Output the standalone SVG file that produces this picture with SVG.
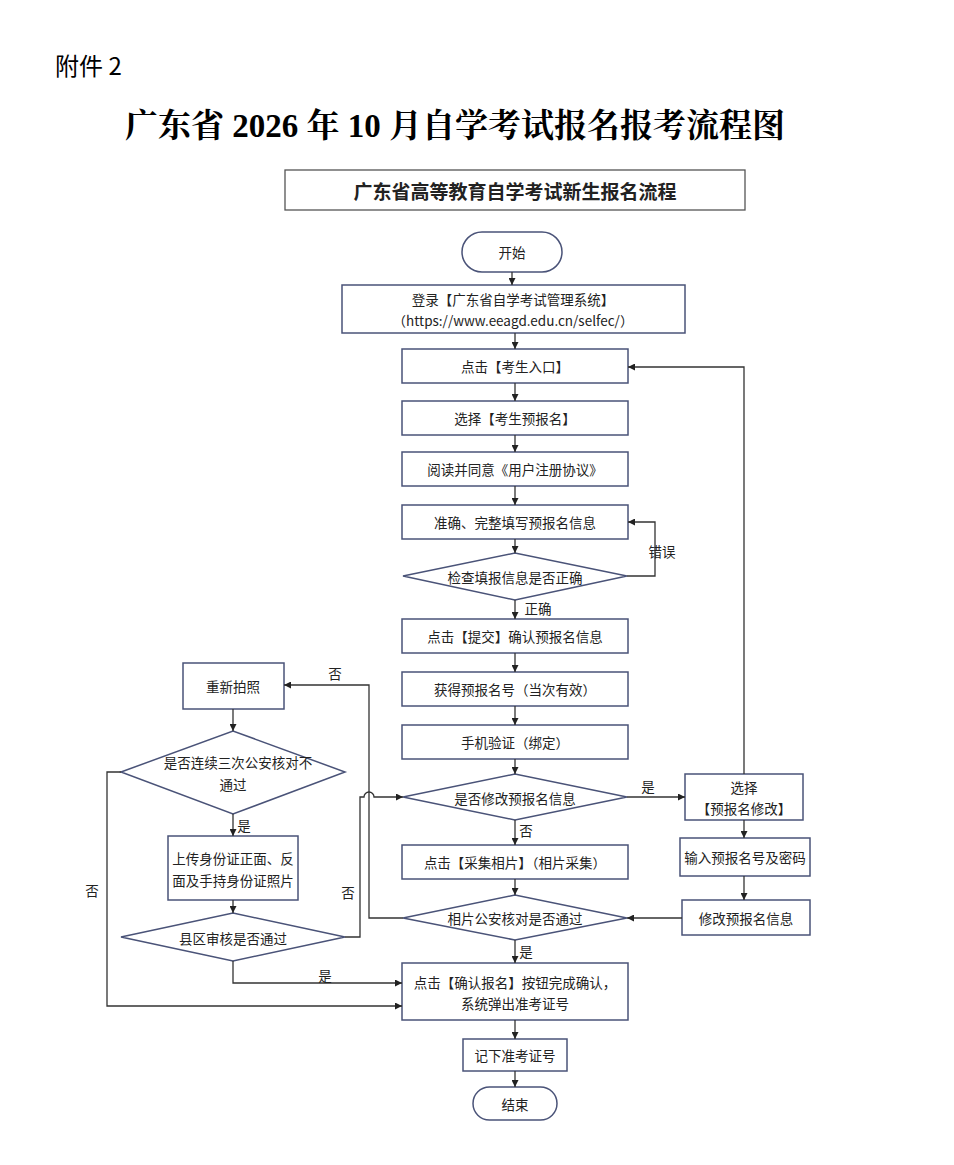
<svg xmlns="http://www.w3.org/2000/svg" width="954" height="1165" viewBox="0 0 954 1165">
<defs>
<marker id="ah" viewBox="0 0 10 10" refX="10" refY="5" markerWidth="7" markerHeight="7" orient="auto" markerUnits="userSpaceOnUse"><path d="M0,0 L10,5 L0,10 z" fill="#222"/></marker>
<style>
.b{fill:#fff;stroke:#4a5378;stroke-width:1.5}
.t{font-family:"Noto Sans CJK SC","Noto Sans",sans-serif;font-size:13.5px;fill:#222;text-anchor:middle;dominant-baseline:central}
.c{fill:none;stroke:#333;stroke-width:1.3;marker-end:url(#ah)}
.n{fill:none;stroke:#333;stroke-width:1.3}
</style>
</defs>
<rect width="954" height="1165" fill="#fff"/>
<text x="55" y="75" style="font-family:'Noto Sans CJK SC',sans-serif;font-size:24px;fill:#000">附件 2</text>
<text x="455" y="137" style="font-family:'Liberation Serif','Noto Serif CJK SC','Noto Sans CJK SC',serif;font-size:33px;font-weight:bold;fill:#000;text-anchor:middle">广东省 2026 年 10 月自学考试报名报考流程图</text>
<g id="header"><rect x="285" y="170" width="460" height="40" fill="#fff" stroke="#555" stroke-width="1.3"/><text class="t" x="515" y="190" style="font-size:19px;font-weight:bold">广东省高等教育自学考试新生报名流程</text></g>
<g id="start"><rect class="b" x="462" y="232" width="100" height="40" rx="20"/><text class="t" x="512" y="252">开始</text></g>
<g id="login"><rect class="b" x="342" y="285" width="343" height="48"/><text class="t" x="513" y="299">登录【广东省自学考试管理系统】</text><text class="t" x="513" y="320">（https://www.eeagd.edu.cn/selfec/）</text></g>
<g id="n1"><rect class="b" x="402" y="349" width="226" height="34"/><text class="t" x="515" y="366">点击【考生入口】</text></g>
<g id="n2"><rect class="b" x="402" y="401" width="226" height="34"/><text class="t" x="515" y="418">选择【考生预报名】</text></g>
<g id="n3"><rect class="b" x="402" y="452" width="226" height="34"/><text class="t" x="515" y="469">阅读并同意《用户注册协议》</text></g>
<g id="n4"><rect class="b" x="402" y="505" width="226" height="34"/><text class="t" x="515" y="522">准确、完整填写预报名信息</text></g>
<g id="d1"><polygon class="b" points="403,576 515,553 627,576 515,600"/><text class="t" x="515" y="577">检查填报信息是否正确</text></g>
<g id="n5"><rect class="b" x="402" y="619" width="226" height="34"/><text class="t" x="515" y="636">点击【提交】确认预报名信息</text></g>
<g id="n6"><rect class="b" x="402" y="672" width="226" height="34"/><text class="t" x="515" y="689">获得预报名号（当次有效）</text></g>
<g id="n7"><rect class="b" x="402" y="725" width="226" height="34"/><text class="t" x="515" y="742">手机验证（绑定）</text></g>
<g id="d2"><polygon class="b" points="403,797 515,774 627,797 515,820"/><text class="t" x="515" y="798">是否修改预报名信息</text></g>
<g id="n8"><rect class="b" x="402" y="845" width="226" height="34"/><text class="t" x="515" y="862">点击【采集相片】（相片采集）</text></g>
<g id="d3"><polygon class="b" points="403,918 515,895 627,918 515,940"/><text class="t" x="515" y="918">相片公安核对是否通过</text></g>
<g id="n9"><rect class="b" x="402" y="963" width="226" height="57"/><text class="t" x="515" y="982">点击【确认报名】按钮完成确认，</text><text class="t" x="515" y="1003">系统弹出准考证号</text></g>
<g id="n10"><rect class="b" x="463" y="1039" width="104" height="32"/><text class="t" x="515" y="1055">记下准考证号</text></g>
<g id="end"><rect class="b" x="473" y="1087" width="84" height="33" rx="16.5"/><text class="t" x="515" y="1104">结束</text></g>
<g id="r1"><rect class="b" x="685" y="774" width="118" height="46"/><text class="t" x="744" y="787">选择</text><text class="t" x="744" y="808">【预报名修改】</text></g>
<g id="r2"><rect class="b" x="680" y="838" width="130" height="38"/><text class="t" x="745" y="857">输入预报名号及密码</text></g>
<g id="r3"><rect class="b" x="682" y="900" width="128" height="35"/><text class="t" x="746" y="918">修改预报名信息</text></g>
<g id="l1"><rect class="b" x="183" y="663" width="101" height="46"/><text class="t" x="233" y="686">重新拍照</text></g>
<g id="l2"><polygon class="b" points="121,772 233,731 345,772 233,814"/><text class="t" x="238" y="762">是否连续三次公安核对不</text><text class="t" x="233" y="784">通过</text></g>
<g id="l3"><rect class="b" x="168" y="836" width="130" height="64"/><text class="t" x="233" y="858">上传身份证正面、反</text><text class="t" x="233" y="880">面及手持身份证照片</text></g>
<g id="l4"><polygon class="b" points="121,937 233,913 345,937 233,961"/><text class="t" x="233" y="938">县区审核是否通过</text></g>
<g id="connectors">
<path class="c" d="M512,272 V285"/>
<path class="c" d="M515,333 V349"/>
<path class="c" d="M515,383 V401"/>
<path class="c" d="M515,435 V452"/>
<path class="c" d="M515,486 V505"/>
<path class="c" d="M515,539 V553"/>
<path class="c" d="M627,576 H655 V522 H628"/>
<path class="c" d="M515,600 V619"/>
<path class="c" d="M515,653 V672"/>
<path class="c" d="M515,706 V725"/>
<path class="c" d="M515,759 V774"/>
<path class="c" d="M515,820 V845"/>
<path class="c" d="M515,879 V895"/>
<path class="c" d="M515,940 V963"/>
<path class="c" d="M515,1020 V1039"/>
<path class="c" d="M515,1071 V1087"/>
<path class="c" d="M627,797 H685"/>
<path class="c" d="M744,774 V367 H628"/>
<path class="c" d="M744,820 V838"/>
<path class="c" d="M744,876 V900"/>
<path class="c" d="M682,918 H627"/>
<path class="c" d="M403,918 H369 V685 H284"/>
<path class="c" d="M345,937 H360 V797 H364 A5,5 0 0 1 374,797 H403"/>
<path class="c" d="M233,709 V731"/>
<path class="c" d="M233,814 V836"/>
<path class="c" d="M233,900 V913"/>
<path class="c" d="M233,961 V983 H402"/>
<path class="c" d="M121,772 H107 V1006 H402"/>
</g>
<g class="labels">
<text class="t" x="662" y="551">错误</text>
<text class="t" x="538" y="608">正确</text>
<text class="t" x="648" y="786">是</text>
<text class="t" x="526" y="830">否</text>
<text class="t" x="526" y="951">是</text>
<text class="t" x="335" y="673">否</text>
<text class="t" x="348" y="892">否</text>
<text class="t" x="244" y="825">是</text>
<text class="t" x="325" y="975">是</text>
<text class="t" x="92" y="890">否</text>
</g>
</svg>
